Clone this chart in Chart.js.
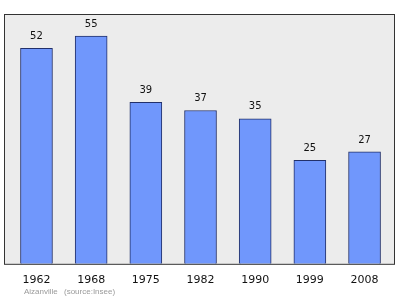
<!DOCTYPE html>
<html>
<head>
<meta charset="utf-8">
<script src="https://cdn.jsdelivr.net/npm/chart.js@4/dist/chart.umd.min.js"></script>
<style>
  html, body { margin: 0; padding: 0; background: #ffffff; }
  #wrap { width: 400px; height: 299px; position: relative; }
</style>
</head>
<body>
<div id="wrap"><canvas id="c" width="400" height="299"></canvas></div>
<script>
// Population by census year
const years = ['1962', '1968', '1975', '1982', '1990', '1999', '2008'];
const population = [52, 55, 39, 37, 35, 25, 27];
const footerPlace = 'Aizanville';
const footerSource = '(source:Insee)';

// Plot frame: light grey panel with a dark outline
const framePlugin = {
  id: 'frame',
  beforeDraw(chart) {
    const { ctx, chartArea: a } = chart;
    ctx.save();
    ctx.fillStyle = '#ececec';
    ctx.fillRect(a.left, a.top, a.right - a.left, a.bottom - a.top);
    ctx.restore();
  },
  afterDatasetsDraw(chart) {
    const { ctx, chartArea: a } = chart;
    ctx.save();
    ctx.strokeStyle = '#333333';
    ctx.lineWidth = 1;
    ctx.strokeRect(a.left + 0.5, a.top + 0.5, a.right - a.left - 1, a.bottom - a.top);
    // value labels above bars
    const meta = chart.getDatasetMeta(0);
    ctx.fillStyle = '#111111';
    ctx.font = '10px "DejaVu Sans"';
    ctx.textAlign = 'center';
    ctx.textBaseline = 'middle';
    meta.data.forEach((bar, i) => {
      ctx.fillText(String(population[i]), bar.x, bar.y - 12);
    });
    // footer credit
    ctx.fillStyle = '#9a9a9a';
    ctx.font = '8px "Liberation Sans"';
    ctx.textAlign = 'left';
    ctx.fillText(footerPlace, 24, 292);
    ctx.fillText(footerSource, 64, 292);
    ctx.restore();
  }
};

new Chart(document.getElementById('c'), {
  type: 'bar',
  data: {
    datasets: [{
      data: population.map((v, i) => ({ x: i, y: v })),
      backgroundColor: '#7097fc',
      borderColor: '#22306a',
      borderWidth: 1,
      barThickness: 32
    }]
  },
  options: {
    responsive: false,
    animation: false,
    layout: { padding: { left: 4, right: 5, top: 14, bottom: 2 } },
    plugins: { legend: { display: false }, tooltip: { enabled: false } },
    scales: {
      x: {
        type: 'linear',
        offset: false,
        min: -0.594,
        max: 6.557,
        grid: { display: false, drawTicks: false, offset: false },
        border: { display: false },
        afterBuildTicks(scale) {
          scale.ticks = years.map((_, i) => ({ value: i }));
        },
        ticks: {
          padding: 10,
          color: '#111111',
          font: { family: 'DejaVu Sans', size: 11 },
          maxRotation: 0,
          autoSkip: false,
          callback: (v) => years[v]
        }
      },
      y: {
        display: false,
        min: 0,
        max: 60.3
      }
    }
  },
  plugins: [framePlugin]
});
</script>
</body>
</html>
